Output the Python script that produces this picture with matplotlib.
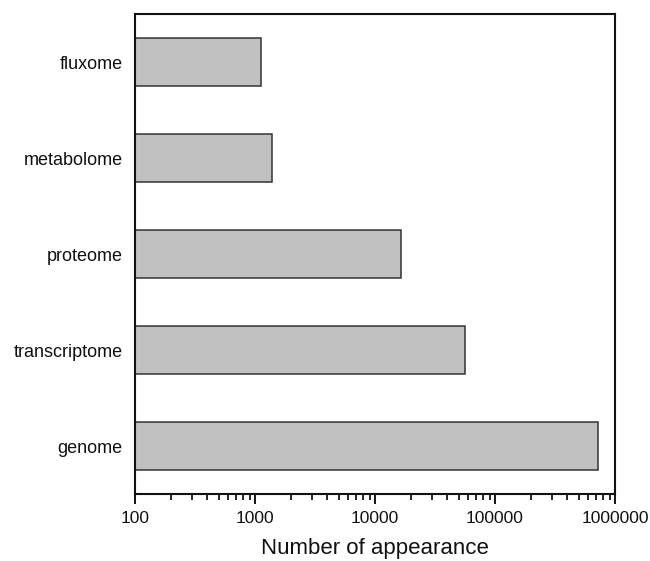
import numpy as np
import matplotlib
matplotlib.use("Agg")
import matplotlib.pyplot as plt
from matplotlib.ticker import LogLocator, FixedLocator, FixedFormatter, NullFormatter

plt.rc('font', family='Liberation Sans')

categories = ["genome", "transcriptome", "proteome", "metabolome", "fluxome"]
counts = [721000, 56200, 16500, 1380, 1115]
tick_values = [100, 1000, 10000, 100000, 1000000]
tick_labels = ["100", "1000", "10000", "100000", "1000000"]

fig = plt.figure(figsize=(6.5, 5.61), dpi=100)
ax = fig.add_axes([0.2077, 0.1194, 0.7385, 0.8556])

ypos = np.arange(len(categories))
ax.barh(ypos, counts, height=0.5, left=0, color="#c0c0c0",
        edgecolor="#333333", linewidth=1.1)

ax.set_xscale("log")
ax.set_xlim(100, 1000000)
ax.set_ylim(-0.5, 4.5)

ax.xaxis.set_major_locator(FixedLocator(tick_values))
ax.xaxis.set_major_formatter(FixedFormatter(tick_labels))
ax.xaxis.set_minor_locator(LogLocator(base=10, subs=np.arange(2, 10)))
ax.xaxis.set_minor_formatter(NullFormatter())
ax.tick_params(axis='x', which='major', direction='out', length=7, width=1.4,
               labelsize=12.5, pad=5, colors='#111111')
ax.tick_params(axis='x', which='minor', direction='out', length=4, width=1.2)

ax.set_yticks(ypos)
ax.set_yticklabels(categories, fontsize=13, color='#111111')
ax.tick_params(axis='y', length=0, pad=9)

for s in ax.spines.values():
    s.set_linewidth(1.5)
    s.set_color('#111111')

ax.set_xlabel("Number of appearance", fontsize=16, color='#111111', labelpad=9)

fig.savefig("out.png", dpi=100)
